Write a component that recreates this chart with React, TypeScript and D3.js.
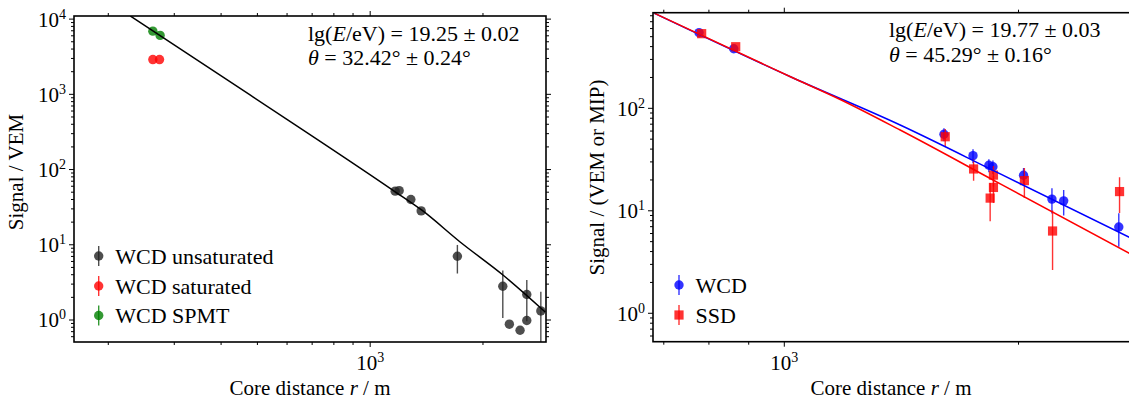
import React from 'react';
import * as d3 from 'd3';

const FONT = '"Liberation Serif", "Times New Roman", serif';

// ---- left panel: WCD signals ----
const unsatR = [1166, 1195, 1284, 1368, 1709, 2259, 2618, 2352, 2512, 2618, 2854];
const unsatS = [51.6, 52.4, 40.0, 28.2, 7.05, 2.81, 2.18, 0.88, 0.73, 0.985, 1.32];
const unsatErr = [0, 0, 0, 0, 2.9, 1.75, 1.22, 0, 0, 0, 1.05];
const satR = [263, 274];
const satS = [2900, 2900];
const spmtR = [263, 275];
const spmtS = [6920, 6070];
const ldfLeftR = [229, 479, 1151, 1374, 1738, 2265, 2931];
const ldfLeftS = [11000, 975, 53, 28.8, 10.9, 3.94, 1.28];

// ---- right panel: WCD + SSD ----
const wcdR = [777, 861, 1604, 1748, 1832, 1854, 2030, 2208, 2286, 2691];
const wcdS = [547, 381, 55.8, 34.5, 27.8, 26.9, 22.2, 13.0, 12.5, 6.95];
const wcdErr = [0, 0, 8, 5.4, 4, 4, 4, 3.6, 3.5, 2.5];
const ssdR = [783, 866, 1610, 1751, 1857, 1857, 1839, 2035, 2212, 2697];
const ssdS = [535, 399, 52.8, 25.6, 22.3, 16.9, 13.3, 19.7, 6.35, 15.4];
const ssdErr = [0, 0, 10, 6, 5, 5, 5.4, 6.4, 3.7, 5.9];
const ldfWcdR = [681, 1020, 1409, 1895, 2777];
const ldfWcdS = [845, 202, 68.7, 22.9, 5.51];
const ldfSsdR = [681, 1020, 1180, 1409, 1895, 2777];
const ldfSsdS = [845, 202, 122, 61.4, 18.3, 3.85];

const BLACK = '#222';
const RED = '#ff0000';
const GREEN = '#008000';
const BLUE = '#0000ff';

type Tick = { v: number; major: boolean };
function logTicks(domain: number[]): Tick[] {
  const [a, b] = domain;
  const out: Tick[] = [];
  for (let e = Math.floor(Math.log10(a)); e <= Math.ceil(Math.log10(b)); e++) {
    for (let k = 1; k < 10; k++) {
      const v = k * Math.pow(10, e);
      if (v >= a * 0.999 && v <= b * 1.001) out.push({ v, major: k === 1 });
    }
  }
  return out;
}

const Pow10 = ({ x, y, e, anchor }: any) => (
  <text x={x} y={y} textAnchor={anchor} fontFamily={FONT} fontSize={21} fill="#000">
    10<tspan dy={-8} fontSize={14}>{e}</tspan>
  </text>
);

function Frame({ x, y, right }: any) {
  const [x0, x1] = x.range();
  const [y0, y1] = y.range();
  const xt = logTicks(x.domain());
  const yt = logTicks(y.domain());
  const st = { stroke: '#000', strokeWidth: 1 };
  return (
    <g>
      {xt.map((t, i) => {
        const px = x(t.v);
        const L = t.major ? 5 : 3;
        return (
          <g key={'x' + i}>
            <line x1={px} x2={px} y1={y0} y2={y0 + L} {...st} />
            <line x1={px} x2={px} y1={y1} y2={y1 - L} {...st} />
            {t.major && <Pow10 x={px} y={370} e={Math.round(Math.log10(t.v))} anchor="middle" />}
          </g>
        );
      })}
      {yt.map((t, i) => {
        const py = y(t.v);
        const L = t.major ? 5 : 3;
        return (
          <g key={'y' + i}>
            <line x1={x0} x2={x0 - L} y1={py} y2={py} {...st} />
            {right && <line x1={x1} x2={x1 + L} y1={py} y2={py} {...st} />}
            {t.major && <Pow10 x={x0 - 8} y={py + 7.4} e={Math.round(Math.log10(t.v))} anchor="end" />}
          </g>
        );
      })}
      <rect x={x0} y={y1} width={x1 - x0} height={y0 - y1} fill="none" stroke="#000" strokeWidth={1.6} />
    </g>
  );
}

function Points({ x, y, r, s, err, color, square }: any) {
  return (
    <g fill={color} fillOpacity={0.8}>
      {r.map((rv: number, i: number) => {
        const px = x(rv);
        const py = y(s[i]);
        const e = err ? err[i] : 0;
        return (
          <g key={i}>
            {e > 0 && (
              <line x1={px} x2={px} y1={y(s[i] + e)} y2={y(Math.max(s[i] - e, 1e-3))}
                stroke={color} strokeOpacity={0.8} strokeWidth={1.4} />
            )}
            {square
              ? <rect x={px - 4.6} y={py - 4.6} width={9.2} height={9.2} />
              : <circle cx={px} cy={py} r={4.7} />}
          </g>
        );
      })}
    </g>
  );
}

function fitPath(x: any, y: any, r: number[], s: number[]) {
  const line = d3.line<number>()
    .x((_, i) => x(r[i]))
    .y((d) => y(d))
    .curve(d3.curveMonotoneX);
  return line(s) || '';
}

function LegendItem({ x, y, color, label, square }: any) {
  return (
    <g>
      <line x1={x} x2={x} y1={y - 10} y2={y + 10} stroke={color} strokeOpacity={0.8} strokeWidth={1.4} />
      {square
        ? <rect x={x - 4.6} y={y - 4.6} width={9.2} height={9.2} fill={color} fillOpacity={0.8} />
        : <circle cx={x} cy={y} r={4.7} fill={color} fillOpacity={0.8} />}
      <text x={x + 16.5} y={y + 7.8} fontFamily={FONT} fontSize={22} fill="#000">{label}</text>
    </g>
  );
}

function Annotation({ x, y, lgE, theta }: any) {
  return (
    <g fontFamily={FONT} fontSize={22} fill="#000">
      <text x={x} y={y}>
        lg(<tspan fontStyle="italic">E</tspan>/eV) = {lgE}
      </text>
      <text x={x} y={y + 24.5}>
        <tspan fontStyle="italic">θ</tspan> = {theta}
      </text>
    </g>
  );
}

export default function App() {
  const xL = d3.scaleLog().domain([162, 2946]).range([74, 546]);
  const yL = d3.scaleLog().domain([0.51, 11000]).range([342, 16]);
  const xR = d3.scaleLog().domain([678, 2790]).range([653, 1131]);
  const yR = d3.scaleLog().domain([0.528, 857]).range([341.7, 12.7]);

  return (
    <svg width={1129} height={405} style={{ position: 'absolute', left: 0, top: 0, display: 'block', background: '#fff' }}>
      <defs>
        <clipPath id="clipL"><rect x={74} y={16} width={472} height={326} /></clipPath>
        <clipPath id="clipR"><rect x={653} y={12.7} width={478} height={329} /></clipPath>
      </defs>

      {/* left panel */}
      <g clipPath="url(#clipL)">
        <Points x={xL} y={yL} r={unsatR} s={unsatS} err={unsatErr} color={BLACK} />
        <Points x={xL} y={yL} r={satR} s={satS} color={RED} />
        <Points x={xL} y={yL} r={spmtR} s={spmtS} color={GREEN} />
        <path d={fitPath(xL, yL, ldfLeftR, ldfLeftS)} fill="none" stroke="#000" strokeWidth={1.5} />
      </g>
      <Frame x={xL} y={yL} right />
      <LegendItem x={98.7} y={256} color={BLACK} label="WCD unsaturated" />
      <LegendItem x={98.7} y={286} color={RED} label="WCD saturated" />
      <LegendItem x={98.7} y={315.5} color={GREEN} label="WCD SPMT" />
      <Annotation x={308} y={40.5} lgE="19.25 ± 0.02" theta="32.42° ± 0.24°" />
      <text x={310} y={395} textAnchor="middle" fontFamily={FONT} fontSize={21}>
        Core distance <tspan fontStyle="italic">r</tspan> / m
      </text>
      <text transform="translate(23,172) rotate(-90)" textAnchor="middle" fontFamily={FONT} fontSize={21}>
        Signal / VEM
      </text>

      {/* right panel */}
      <g clipPath="url(#clipR)">
        <Points x={xR} y={yR} r={wcdR} s={wcdS} err={wcdErr} color={BLUE} />
        <Points x={xR} y={yR} r={ssdR} s={ssdS} err={ssdErr} color={RED} square />
        <path d={fitPath(xR, yR, ldfWcdR, ldfWcdS)} fill="none" stroke={BLUE} strokeWidth={1.5} />
        <path d={fitPath(xR, yR, ldfSsdR, ldfSsdS)} fill="none" stroke={RED} strokeWidth={1.5} />
      </g>
      <Frame x={xR} y={yR} />
      <LegendItem x={679} y={285} color={BLUE} label="WCD" />
      <LegendItem x={679} y={315} color={RED} label="SSD" square />
      <Annotation x={889} y={37} lgE="19.77 ± 0.03" theta="45.29° ± 0.16°" />
      <text x={891} y={395} textAnchor="middle" fontFamily={FONT} fontSize={21}>
        Core distance <tspan fontStyle="italic">r</tspan> / m
      </text>
      <text transform="translate(604,177.5) rotate(-90)" textAnchor="middle" fontFamily={FONT} fontSize={21}>
        Signal / (VEM or MIP)
      </text>
    </svg>
  );
}
